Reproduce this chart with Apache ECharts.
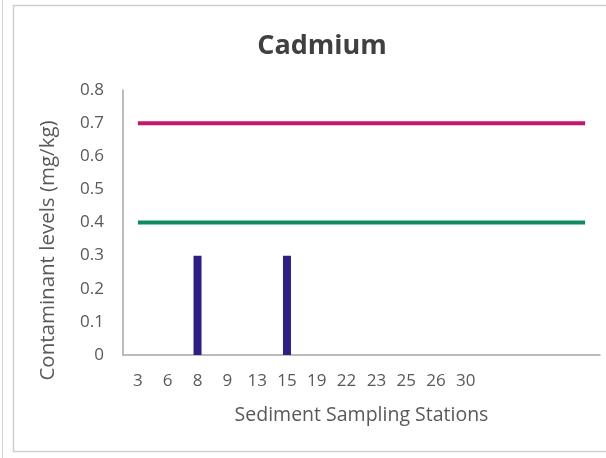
<!DOCTYPE html>
<html>
<head>
<meta charset="utf-8">
<script src="https://cdn.jsdelivr.net/npm/echarts@6/dist/echarts.min.js"></script>
<style>
  html, body { margin: 0; padding: 0; background: #ffffff; }
  #chart { width: 606px; height: 458px; }
</style>
</head>
<body>
<div id="chart"></div>
<script>
// Sediment sampling stations (trailing blanks keep the plot area wide)
const stations = ['3', '6', '8', '9', '13', '15', '19', '22', '23', '25', '26', '30', '', '', '', ''];
// Measured cadmium levels (mg/kg)
const cadmium = [0, 0, 0.3, 0, 0, 0.3, 0, 0, 0, 0, 0, 0, null, null, null, null];
// Guideline levels drawn across every station
const upperGuideline = [0.7, 0.7, 0.7, 0.7, 0.7, 0.7, 0.7, 0.7, 0.7, 0.7, 0.7, 0.7, 0.7, 0.7, 0.7, 0.7];
const lowerGuideline = [0.4, 0.4, 0.4, 0.4, 0.4, 0.4, 0.4, 0.4, 0.4, 0.4, 0.4, 0.4, 0.4, 0.4, 0.4, 0.4];
const yTicks = { min: 0, max: 0.8, step: 0.1 };

const font = '"Open Sans", "Liberation Sans", sans-serif';
const chart = echarts.init(document.getElementById('chart'), null, { renderer: 'canvas' });

chart.setOption({
  backgroundColor: '#ffffff',
  animation: false,
  title: {
    text: 'Cadmium',
    left: 317,
    top: 28,
    textAlign: 'center',
    textStyle: { fontFamily: font, fontSize: 27, fontWeight: 'bold', color: '#404040' }
  },
  graphic: [
    { type: 'line', shape: { x1: 2.5, y1: 0, x2: 2.5, y2: 458 }, style: { stroke: '#d4d4d4', lineWidth: 1 }, silent: true },
    { type: 'rect', shape: { x: 13.5, y: 5.5, width: 620, height: 446 }, style: { fill: 'none', stroke: '#cfcfcf', lineWidth: 1.5 }, silent: true }
  ],
  grid: { left: 123, right: 6, top: 90, bottom: 103, containLabel: false },
  xAxis: {
    type: 'category',
    data: stations,
    name: 'Sediment Sampling Stations',
    nameLocation: 'middle',
    nameGap: 50,
    nameTextStyle: { fontFamily: font, fontSize: 19.5, color: '#595959' },
    axisLine: { show: true, lineStyle: { color: '#a6a6a6', width: 1.5 } },
    axisTick: { show: false },
    axisLabel: { interval: 0, margin: 18, fontFamily: font, fontSize: 17, color: '#595959' },
    splitLine: { show: false }
  },
  yAxis: {
    type: 'value',
    min: yTicks.min,
    max: yTicks.max,
    interval: yTicks.step,
    name: 'Contaminant levels (mg/kg)',
    nameLocation: 'middle',
    nameGap: 64,
    nameRotate: 90,
    nameTextStyle: { fontFamily: font, fontSize: 20.5, color: '#595959', padding: [0, 56, 0, 0] },
    axisLine: { show: true, lineStyle: { color: '#a6a6a6', width: 1.5 } },
    axisTick: { show: false },
    axisLabel: { margin: 19, fontFamily: font, fontSize: 17, color: '#595959', formatter: v => String(Math.round(v * 10) / 10) },
    splitLine: { show: false }
  },
  series: [
    {
      name: 'Cadmium',
      type: 'bar',
      data: cadmium,
      barWidth: 8,
      itemStyle: { color: '#2d1f86' }
    },
    {
      name: 'Upper guideline',
      type: 'line',
      data: upperGuideline,
      symbol: 'none',
      lineStyle: { color: '#c4166f', width: 4 },
      z: 3
    },
    {
      name: 'Lower guideline',
      type: 'line',
      data: lowerGuideline,
      symbol: 'none',
      lineStyle: { color: '#0f8c5e', width: 4 },
      z: 3
    }
  ]
});
</script>
</body>
</html>
